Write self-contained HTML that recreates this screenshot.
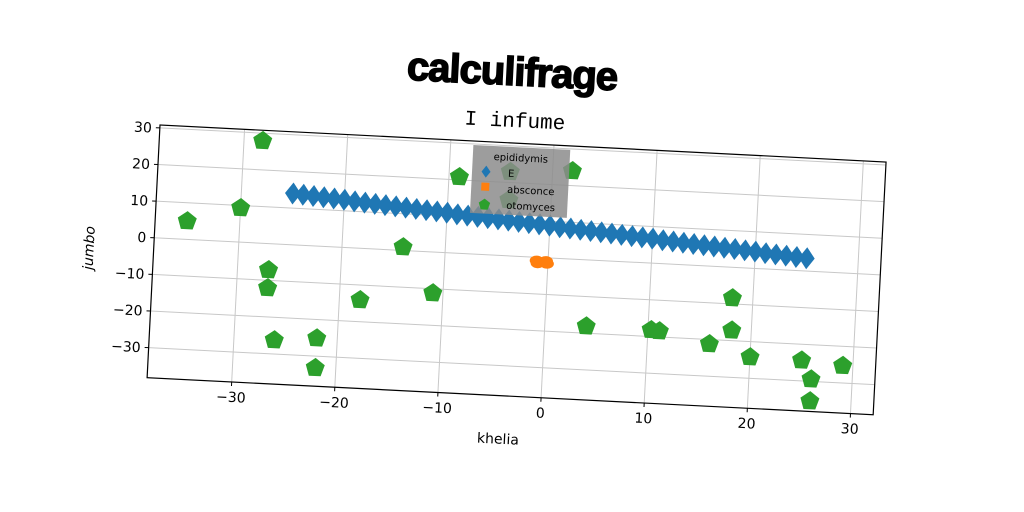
<!DOCTYPE html>
<html><head><meta charset="utf-8"><style>
html,body{margin:0;padding:0;background:#fff;width:1024px;height:512px;overflow:hidden}
svg{display:block}
text{font-family:"DejaVu Sans","Liberation Sans",sans-serif}
</style></head><body>
<svg id="chart" width="1024" height="512" xmlns="http://www.w3.org/2000/svg">
<text x="512" y="85" text-anchor="middle" transform="rotate(2.9 512 75)" style="font-family:'Liberation Sans',sans-serif;font-weight:900;font-size:40px;stroke:#000;stroke-width:1.5;letter-spacing:-1px">calculifrage</text>
<text x="515" y="127" text-anchor="middle" transform="rotate(2.9 515 120)" style="font-family:'Liberation Mono',monospace;font-size:21px">I infume</text>
<g id="plot" transform="translate(160,125) rotate(2.92)"></g>
</svg>
<script>
const xTicks=[-30,-20,-10,0,10,20,30];
const yTicks=[30,20,10,0,-10,-20,-30];
const blueX=[-25,-24,-23,-22,-21,-20,-19,-18,-17,-16,-15,-14,-13,-12,-11,-10,-9,-8,-7,-6,-5,-4,-3,-2,-1,0,1,2,3,4,5,6,7,8,9,10,11,12,13,14,15,16,17,18,19,20,21,22,23,24,25];
const blueY=[14,13.8,13.6,13.4,13.2,13,12.7,12.5,12.3,12.1,11.9,11.7,11.5,11.3,11.1,10.9,10.6,10.4,10.2,10,9.8,9.6,9.4,9.2,9,8.8,8.5,8.3,8.1,7.9,7.7,7.5,7.3,7.1,6.9,6.7,6.4,6.2,6,5.8,5.6,5.4,5.2,5,4.8,4.6,4.3,4.1,3.9,3.7,3.5];
const orangeX=[-1.1,-0.2,-1.0,-0.1];
const orangeY=[-0.9,-0.9,-1.6,-1.6];
const greenX=[-28.2,-35.1,-30,-27,-27,-26.1,-22,-22,-18,-14.1,-11,-9,-4.1,-4.1,1.9,4,10.3,11.1,16,18,18.1,20,25,26,26,29];
const greenY=[27.9,5,9.3,-7.2,-12.1,-26.2,-25.1,-33.2,-14.1,0.9,-11.2,20.8,22.9,15.2,24,-18.1,-18.2,-18.4,-21.2,-8.4,-17.2,-24.2,-24.4,-29.4,-35.4,-25.3];
const W=727,H=253,X0=-38.2,X1=32.2,Y0=-38.2,Y1=30.8;
const sx=v=>(v-X0)/(X1-X0)*W, sy=v=>H-(v-Y0)/(Y1-Y0)*H;
const NS='http://www.w3.org/2000/svg';
const g=document.getElementById('plot');
function mk(t,a,p){const e=document.createElementNS(NS,t);for(const k in a)e.setAttribute(k,a[k]);(p||g).appendChild(e);return e;}
xTicks.forEach(v=>{
 const l=mk('line',{x1:sx(v),x2:sx(v),y1:0,y2:H,stroke:'#c8c8c8','stroke-width':1});
 
 
 mk('line',{x1:sx(v),x2:sx(v),y1:H,y2:H+4,stroke:'#000'});
 const t=mk('text',{x:sx(v),y:H+20,'text-anchor':'middle','font-size':14});
 t.textContent=v<0?'\u2212'+(-v):v;
 
 
});
yTicks.forEach(v=>{
 const l=mk('line',{x1:0,x2:W,y1:sy(v),y2:sy(v),stroke:'#c8c8c8','stroke-width':1});
 
 
 mk('line',{x1:-4,x2:0,y1:sy(v),y2:sy(v),stroke:'#000'});
 const t=mk('text',{x:-8,y:sy(v)+5,'text-anchor':'end','font-size':14});
 t.textContent=v<0?'\u2212'+(-v):v;
 
 
});
function pent(cx,cy,r){let p=[];for(let i=0;i<5;i++){const a=-Math.PI/2+i*2*Math.PI/5;p.push((cx+r*Math.cos(a)).toFixed(1)+','+(cy+r*Math.sin(a)).toFixed(1));}return p.join(' ');}
greenX.forEach((v,i)=>{
 const e=mk('polygon',{points:pent(sx(v),sy(greenY[i]),10),fill:'#2ca02c'});
 
 
});
blueX.forEach((v,i)=>{
 const x=sx(v),y=sy(blueY[i]);
 const e=mk('polygon',{points:`${x},${y-11} ${x+8},${y} ${x},${y+11} ${x-8},${y}`,fill:'#1f77b4'});
 
 
});
orangeX.forEach((v,i)=>{
 const e=mk('ellipse',{cx:sx(v),cy:sy(orangeY[i]),rx:7,ry:5,fill:'#ff7f0e'});
 
 
});
const fr=mk('rect',{x:0,y:0,width:W,height:H,fill:'none',stroke:'#000','stroke-width':1.2});


const lg=mk('g',{transform:'translate(314,4)'});


mk('rect',{x:0,y:0,width:97,height:68,fill:'#8c8c8c','fill-opacity':0.85},lg);
const lt=mk('text',{x:48,y:14,'text-anchor':'middle','font-size':10},lg);lt.textContent='epididymis';


mk('polygon',{points:'14,20 18.5,26 14,32 9.5,26',fill:'#1f77b4'},lg);
const t1=mk('text',{x:36,y:30,'font-size':10},lg);t1.textContent='E';


mk('rect',{x:10,y:37,width:8,height:8,fill:'#ff7f0e'},lg);
const t2=mk('text',{x:36,y:46,'font-size':10},lg);t2.textContent='absconce';


mk('polygon',{points:pent(14,59,6),fill:'#2ca02c'},lg);
const t3=mk('text',{x:36,y:62,'font-size':10},lg);t3.textContent='otomyces';


const xl=mk('text',{x:W/2-10,y:H+48,'text-anchor':'middle','font-size':14});xl.textContent='khelia';


const yl=mk('text',{x:0,y:0,'text-anchor':'middle','font-size':14,'font-style':'italic',transform:`translate(-60,${H/2}) rotate(-90)`});yl.textContent='jumbo';


</script>
</body></html>
